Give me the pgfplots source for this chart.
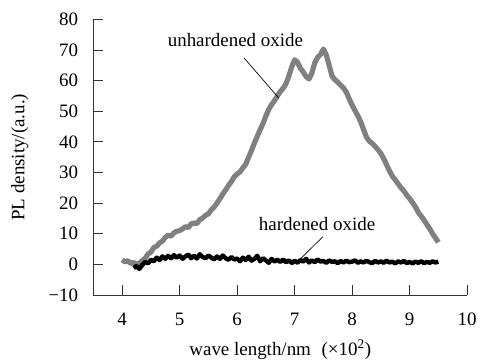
\documentclass[border=0pt]{standalone}
\usepackage{fontspec}
\setmainfont{Liberation Serif}
\usepackage{pgfplots}
\pgfplotsset{compat=1.18}
\begin{document}
\begin{tikzpicture}
\begin{axis}[name=ax, at={(0,0)}, anchor=south west,
  scale only axis, width=282pt, height=208pt,
  xmin=3.5, xmax=10, ymin=-10, ymax=80,
  axis lines=left, axis line style={-, black!80, line width=0.6pt},
  tick align=inside, major tick length=7.5pt,
  tick style={black!80, line width=0.6pt},
  xtick={4,5,6,7,8,9,10},
  ytick={-10,0,10,20,30,40,50,60,70,80},
  yticklabels={−10,0,10,20,30,40,50,60,70,80},
  /pgf/number format/assume math mode=true,
  ticklabel style={font=\fontsize{14.3}{16}\selectfont},
  yticklabel style={xshift=-8pt},
  xticklabel style={yshift=-10pt},
  clip=false]
\addplot[black!50, line width=3.9pt, line join=round] coordinates {
(4.00,1.5)(4.05,0.8)(4.10,1.2)(4.15,0.3)(4.20,0.6)(4.25,0.0)(4.30,0.4)(4.35,1.2)(4.40,2.0)(4.45,3.4)
(4.50,4.0)(4.55,5.5)(4.60,5.9)(4.65,7.0)(4.70,7.6)(4.75,8.8)(4.80,9.5)(4.85,9.2)(4.90,10.3)(4.95,10.8)
(5.00,11.0)(5.05,11.6)(5.10,12.3)(5.15,12.0)(5.20,13.2)(5.25,13.5)(5.30,13.3)(5.35,14.6)(5.40,15.1)(5.45,16.0)
(5.50,16.5)(5.55,17.8)(5.60,18.7)(5.65,20.0)(5.70,21.4)(5.75,23.0)(5.80,24.3)(5.85,25.8)(5.90,27.0)(5.95,28.6)
(6.00,29.5)(6.05,30.2)(6.10,31.5)(6.15,32.7)(6.20,35.0)(6.25,37.2)(6.30,39.6)(6.35,41.8)(6.40,44.0)(6.45,46.0)
(6.50,48.5)(6.55,50.6)(6.60,52.2)(6.65,53.5)(6.70,55.0)(6.75,56.4)(6.80,57.5)(6.85,59.0)(6.90,61.5)(6.95,64.5)
(7.00,66.8)(7.05,66.0)(7.10,64.0)(7.15,62.8)(7.20,61.3)(7.25,60.5)(7.30,62.5)(7.35,65.8)(7.40,67.6)(7.45,68.5)
(7.50,70.3)(7.55,68.4)(7.60,65.0)(7.65,61.5)(7.70,60.3)(7.75,59.5)(7.80,58.5)(7.85,57.6)(7.90,56.2)(7.95,54.0)
(8.00,52.0)(8.05,50.2)(8.10,48.5)(8.15,46.5)(8.20,44.0)(8.25,41.5)(8.30,40.2)(8.35,39.5)(8.40,38.5)(8.45,37.4)
(8.50,36.2)(8.55,34.5)(8.60,32.5)(8.65,30.5)(8.70,28.8)(8.75,27.6)(8.80,26.3)(8.85,25.0)(8.90,24.0)(8.95,22.6)
(9.00,21.5)(9.05,20.2)(9.10,18.8)(9.15,17.0)(9.20,15.8)(9.25,14.5)(9.30,13.0)(9.35,11.6)(9.40,10.0)(9.45,8.6)
(9.50,7.2)};
\addplot[black, line width=3.3pt, line join=round] coordinates {
(4.20,-1.2)(4.25,-0.5)(4.30,-1.5)(4.35,-0.2)(4.40,0.8)(4.45,0.3)(4.50,1.5)(4.55,1.0)(4.60,2.2)(4.65,1.4)
(4.70,2.6)(4.75,1.8)(4.80,2.8)(4.85,2.0)(4.90,3.0)(4.95,2.2)(5.00,2.9)(5.05,1.8)(5.10,2.6)(5.15,3.2)
(5.20,2.0)(5.25,2.8)(5.30,1.9)(5.35,3.3)(5.40,2.4)(5.45,2.0)(5.50,2.9)(5.55,2.2)(5.60,1.6)(5.65,2.6)
(5.70,1.8)(5.75,2.9)(5.80,2.0)(5.85,1.5)(5.90,2.4)(5.95,1.6)(6.00,1.9)(6.05,1.0)(6.10,2.2)(6.15,1.4)
(6.20,2.5)(6.25,1.2)(6.30,1.8)(6.35,2.8)(6.40,1.0)(6.45,2.0)(6.50,1.3)(6.55,0.5)(6.60,1.8)(6.65,0.9)
(6.70,1.5)(6.75,0.8)(6.80,1.6)(6.85,0.7)(6.90,1.3)(6.95,0.4)(7.00,1.2)(7.05,0.5)(7.10,1.4)(7.15,0.9)
(7.20,1.8)(7.25,0.6)(7.30,1.3)(7.35,0.7)(7.40,1.6)(7.45,0.9)(7.50,1.1)(7.55,0.5)(7.60,1.3)(7.65,0.8)
(7.70,1.0)(7.75,0.4)(7.80,1.1)(7.85,0.6)(7.90,1.2)(7.95,0.7)(8.00,0.9)(8.05,1.3)(8.10,0.5)(8.15,1.0)
(8.20,0.6)(8.25,1.2)(8.30,0.7)(8.35,0.4)(8.40,1.1)(8.45,0.6)(8.50,1.0)(8.55,0.5)(8.60,1.2)(8.65,0.6)
(8.70,0.9)(8.75,0.3)(8.80,1.0)(8.85,0.6)(8.90,1.1)(8.95,0.4)(9.00,0.8)(9.05,0.3)(9.10,0.9)(9.15,0.5)
(9.20,1.0)(9.25,0.4)(9.30,0.8)(9.35,0.5)(9.40,1.0)(9.45,0.6)(9.50,0.9)};
\draw[black, line width=0.5pt] (axis cs:6.12,67.4) -- (axis cs:6.72,54.4);
\draw[black, line width=0.5pt] (axis cs:7.49,9.0) -- (axis cs:7.08,1.4);
\node[font=\fontsize{14.3}{16}\selectfont] at (axis cs:5.97,73.4) {unhardened oxide};
\node[font=\fontsize{14.3}{16}\selectfont] at (axis cs:7.39,13.3) {hardened oxide};
\end{axis}
\node[rotate=90, font=\fontsize{14.3}{16}\selectfont] at ([xshift=-55.5pt]ax.west) {PL density/(a.u.)};
\node[font=\fontsize{14.3}{16}\selectfont] at ([yshift=-41pt]ax.south) {wave length/nm\hspace{8pt}(×10\textsuperscript{2})};
\path ([shift={(-70.5pt,-48.75pt)}]ax.south west) rectangle ([shift={(8.25pt,14.6pt)}]ax.north east);
\end{tikzpicture}
\end{document}
